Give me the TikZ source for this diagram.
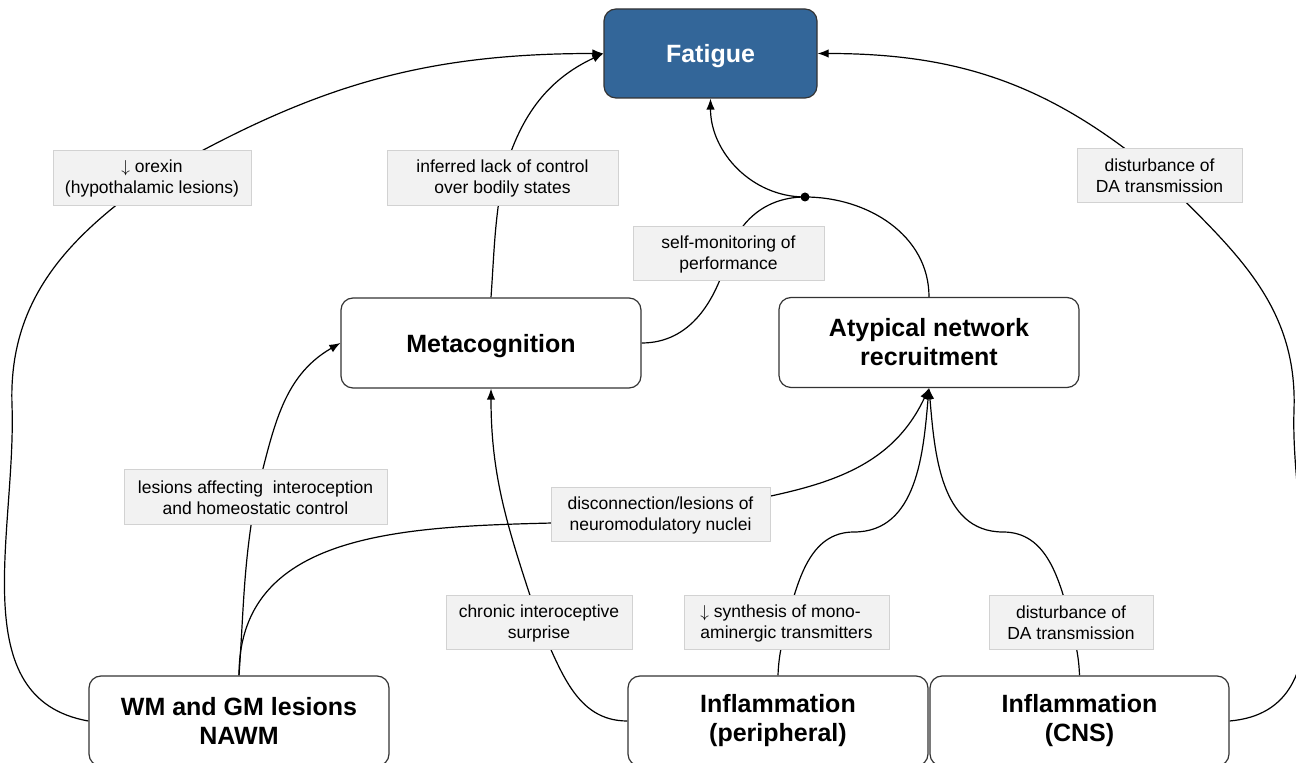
\documentclass[tikz,border=0pt]{standalone}
\usepackage{fontspec}
\setmainfont{Liberation Sans}
\usetikzlibrary{arrows.meta}
\definecolor{fatblue}{HTML}{336699}
\definecolor{lblfill}{HTML}{F2F2F2}
\definecolor{lbldraw}{HTML}{D2D2D2}
\definecolor{boxdraw}{HTML}{333333}
\newcommand\titlestrut{\rule{0pt}{24pt}}
\newcommand\labelstrut{\rule{0pt}{16.5pt}}
\newcommand\darr{$\downarrow$}
\pgfdeclarelayer{bg}
\pgfsetlayers{bg,main}
\begin{document}
\begin{tikzpicture}[x=1pt,y=1pt,
  box/.style={draw=boxdraw,line width=1.2pt,fill=white,rounded corners=12pt,
    minimum width=300pt,minimum height=90pt,align=center,
    font=\fontsize{25}{29}\selectfont\bfseries,inner sep=0pt,
    execute at begin node=\titlestrut},
  fatbox/.style={box,fill=fatblue,text=white,minimum width=213pt,minimum height=89pt},
  lbl/.style={draw=lbldraw,line width=1pt,fill=lblfill,align=center,
    font=\fontsize{17.5}{21}\selectfont,minimum height=54pt,inner sep=0pt,
    execute at begin node=\labelstrut},
  conn/.style={line width=1.2pt,draw=black},
  arr/.style={conn,-{Latex[length=11pt,width=8.5pt]}}]
\useasboundingbox (0,0) rectangle (1296,763);
% main boxes
\node[fatbox] (fatigue) at (710.5,709.5) {Fatigue};
\node[box] (meta) at (491,420) {Metacognition};
\node[box] (atyp) at (929,420.5) {Atypical network\\recruitment};
\node[box] (wm) at (239,42) {WM and GM lesions\\NAWM};
\node[box] (inflP) at (778,42) {Inflammation\\(peripheral)};
\node[box,minimum width=299pt] (inflC) at (1079.5,42) {Inflammation\\(CNS)};
% labels
\node[lbl,minimum width=198pt,minimum height=55pt] (orexin) at (152,584.5) {\darr\ orexin\\(hypothalamic lesions)};
\node[lbl,minimum width=231pt,minimum height=55pt] (inferred) at (502.5,584.5) {inferred lack of control\\over bodily states};
\node[lbl,minimum width=191pt] (selfmon) at (728.5,509) {self-monitoring of\\performance};
\node[lbl,minimum width=165pt] (daTop) at (1159.5,587) {disturbance of\\DA transmission};
\node[lbl,minimum width=263pt,minimum height=55pt] (lesions) at (255.5,265.5) {lesions affecting\ \ interoception\\and homeostatic control};
\node[lbl,minimum width=219pt] (disconn) at (660.5,248) {disconnection/lesions of\\neuromodulatory nuclei};
\node[lbl,minimum width=186pt] (chronic) at (539,140) {chronic interoceptive\\surprise};
\node[lbl,minimum width=205pt,align=left] (synth) at (786.5,140) {\darr\ synthesis of mono-\\aminergic transmitters};
\node[lbl,minimum width=164pt] (daBot) at (1071,140) {disturbance of\\DA transmission};
% junction and waypoints
\node[circle,fill=black,inner sep=0pt,minimum size=9pt] (dot) at (805,566) {};
\coordinate (lw) at (12,358);
\coordinate (rw) at (1294,353);
\coordinate (pk1) at (854,231);
\coordinate (pk2) at (1003,231);
\coordinate (dcx) at ([yshift=-4pt]disconn.center);
\begin{pgfonlayer}{bg}
  % left big loop
  \draw[arr] (wm.west) to[out=170,in=-88] (lw) to[out=92,in=-145] (orexin.center) to[out=30,in=180] (fatigue.west);
  % metacognition -> fatigue
  \draw[arr] (meta.north) to[out=86,in=-100] (inferred.center) to[out=75,in=205] (fatigue.west);
  % self-monitoring arch
  \draw[conn] (meta.east) to[out=0,in=-105] (selfmon.center) to[out=72,in=180] (dot.center);
  \draw[conn] (atyp.north) to[out=90,in=0] (dot.center);
  \draw[arr] (dot.center) to[out=180,in=-90] (fatigue.south);
  % WM -> metacognition
  \draw[arr] (wm.north) to[out=86,in=-100] (lesions.center) to[out=75,in=210] (meta.west);
  % WM -> atypical
  \draw[arr] (wm.north) to[out=90,in=184] (dcx) to[out=14,in=-115] (atyp.south);
  % inflammation peripheral -> metacognition
  \draw[arr] (inflP.west) to[out=180,in=-65] (chronic.center) to[out=108,in=-90] (meta.south);
  % inflammation peripheral -> atypical
  \draw[arr] (inflP.north) to[out=88,in=-102] (synth.center) to[out=75,in=180] (pk1) to[out=0,in=-95] (atyp.south);
  % inflammation CNS -> atypical
  \draw[arr] (inflC.north) to[out=92,in=-78] (daBot.center) to[out=105,in=0] (pk2) to[out=180,in=-85] (atyp.south);
  % inflammation CNS -> fatigue
  \draw[arr] (inflC.east) to[out=5,in=-92] (rw) to[out=88,in=-45] (daTop.center) to[out=140,in=0] (fatigue.east);
\end{pgfonlayer}
\end{tikzpicture}
\end{document}
